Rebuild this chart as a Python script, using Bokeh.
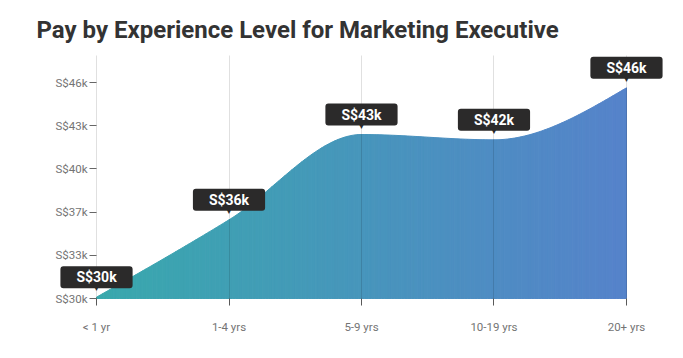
import numpy as np
from bokeh.plotting import figure
from bokeh.models import FixedTicker, Label, Title
from bokeh.embed import file_html
from bokeh.resources import INLINE

# ---- data ----
categories = ["< 1 yr", "1-4 yrs", "5-9 yrs", "10-19 yrs", "20+ yrs"]
salaries_k = [30.1, 35.9, 42.3, 41.9, 45.8]
bubble_labels = ["S$30k", "S$36k", "S$43k", "S$42k", "S$46k"]
y_tick_values = [30.0, 33.24, 36.48, 39.72, 42.96, 46.2]
y_tick_labels = ["S$30k", "S$33k", "S$37k", "S$40k", "S$43k", "S$46k"]
area_floor = 30.0
y_start, y_end = 29.475, 48.225

FONT = "Roboto"
X_PAD_L, X_PAD_R = 0.385, 0.287  # room so end bubbles / axis labels are not clipped

n = len(categories)
p = figure(width=683, height=358, output_backend="svg", toolbar_location=None,
           x_range=(-X_PAD_L, n - 1 + X_PAD_R), y_range=(y_start, y_end),
           min_border_left=45, min_border_right=19, min_border_top=55,
           min_border_bottom=53, outline_line_color=None, title=None)

# ---- smooth (monotone-x) rendering of the series ----
xs = np.arange(n, dtype=float)
ys = np.array(salaries_k, dtype=float)
d = np.diff(ys)
t = np.zeros_like(ys)
for i in range(1, n - 1):
    s0, s1 = d[i - 1], d[i]
    pp = (s0 + s1) / 2
    t[i] = (np.sign(s0) + np.sign(s1)) * min(abs(s0), abs(s1), 0.5 * abs(pp))
t[0] = (3 * d[0] - t[1]) / 2
t[-1] = (3 * d[-1] - t[-2]) / 2
cx, cy = [], []
for i in range(n - 1):
    u = np.linspace(0, 1, 40, endpoint=(i == n - 2))
    h00 = 2 * u**3 - 3 * u**2 + 1
    h10 = u**3 - 2 * u**2 + u
    h01 = -2 * u**3 + 3 * u**2
    h11 = u**3 - u**2
    cx.extend(xs[i] + u)
    cy.extend(h00 * ys[i] + h10 * t[i] + h01 * ys[i + 1] + h11 * t[i + 1])
cx = np.array(cx); cy = np.array(cy)

c0 = np.array([0x39, 0xa9, 0xad]); c1 = np.array([0x56, 0x83, 0xcb])
px, py, cols = [], [], []
for i in range(len(cx) - 1):
    f = (cx[i] + cx[i + 1]) / 2 / (n - 1)
    c = (c0 * (1 - f) + c1 * f).astype(int)
    cols.append("#%02x%02x%02x" % tuple(c))
    px.append([cx[i], cx[i], cx[i + 1], cx[i + 1]])
    py.append([area_floor, cy[i], cy[i + 1], area_floor])
p.patches(px, py, fill_color=cols, line_color=cols, line_width=1)

# ---- axes ----
p.xaxis.ticker = FixedTicker(ticks=list(range(n)))
p.xaxis.major_label_overrides = {i: c for i, c in enumerate(categories)}
p.yaxis.ticker = FixedTicker(ticks=y_tick_values)
p.yaxis.major_label_overrides = {v: l for v, l in zip(y_tick_values, y_tick_labels)}
p.yaxis.fixed_location = 0
for ax in (p.xaxis, p.yaxis):
    ax.axis_line_color = None
    ax.minor_tick_line_color = None
    ax.major_tick_line_color = "#666666"
    ax.major_label_text_font = FONT
    ax.major_label_text_font_size = "11.5px"
    ax.major_label_text_color = "#747474"
p.xaxis.major_tick_out = 0
p.xaxis.major_tick_in = 7
p.xaxis.major_label_standoff = 14
p.yaxis.major_tick_in = 0
p.yaxis.major_tick_out = 7
p.yaxis.major_label_standoff = 2

p.ygrid.grid_line_color = None
p.xgrid.grid_line_color = "#000000"
p.xgrid.grid_line_alpha = 0.12
p.xgrid.level = "annotation"

# ---- value bubbles ----
for i, (v, lab) in enumerate(zip(salaries_k, bubble_labels)):
    p.add_layout(Label(x=i, y=v, text="▼", y_offset=5, text_align="center",
                       text_baseline="bottom", text_font="DejaVu Sans",
                       text_font_size="9px", text_color="#2b2a2a", level="overlay"))
    p.add_layout(Label(x=i, y=v, text=lab, y_offset=20, text_align="center",
                       text_baseline="middle", text_font=FONT,
                       text_font_style="bold", text_font_size="14px",
                       text_color="white", background_fill_color="#2b2a2a",
                       padding=(16, 3), border_radius=3, level="overlay"))

# ---- title ----
p.add_layout(Title(text="Pay by Experience Level for Marketing Executive",
                   align="left", offset=-9, standoff=24,
                   text_font=FONT, text_font_size="24px",
                   text_font_style="bold", text_color="#333333"), "above")

open("out.html", "w").write(file_html(p, INLINE))
